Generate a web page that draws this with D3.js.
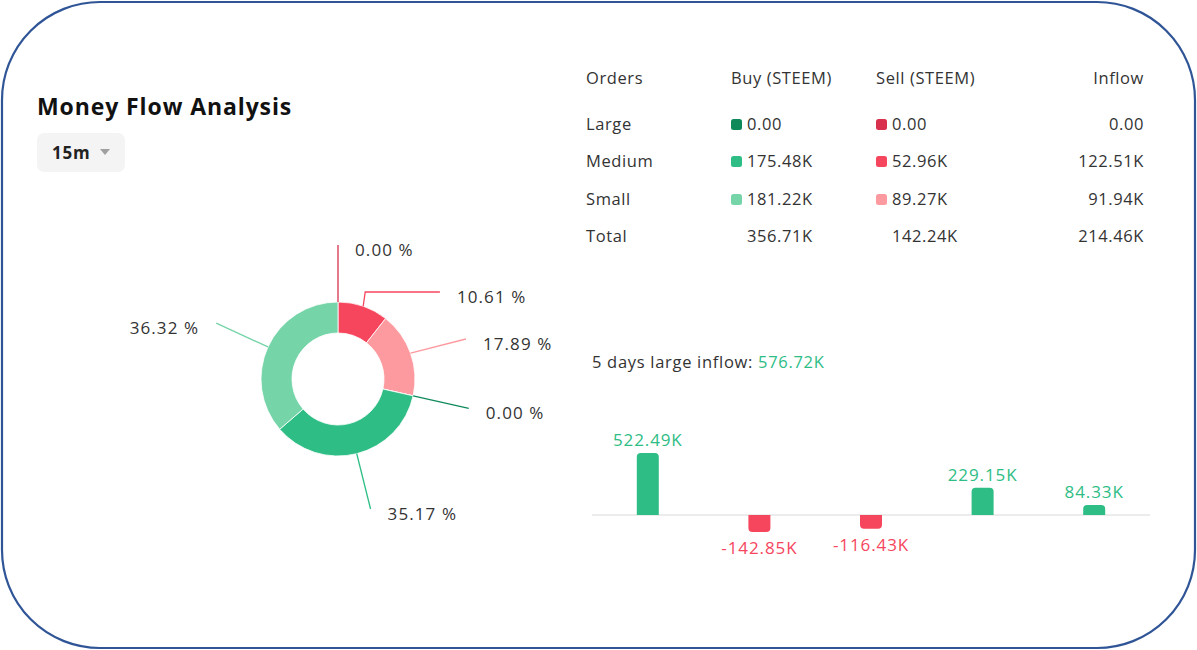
<!DOCTYPE html>
<html>
<head>
<meta charset="utf-8">
<script src="https://cdn.jsdelivr.net/npm/d3@7"></script>
<style>
  body { margin: 0; background: #fff; }
  svg { display: block; font-family: "Open Sans", sans-serif; }
</style>
</head>
<body>
<div id="chart"></div>
<script>
// order table (values in K STEEM)
const orderTypes = ["Large", "Medium", "Small"];
const buyValues = [0, 175.48, 181.22];
const sellValues = [0, 52.96, 89.27];
const inflowValues = [0, 122.51, 91.94];
const totalValues = [356.71, 142.24, 214.46];
const tableHeaders = ["Orders", "Buy (STEEM)", "Sell (STEEM)", "Inflow"];

// 5 days large inflow (K)
const dayKeys = ["d1", "d2", "d3", "d4", "d5"];
const dayInflow = [522.49, -142.85, -116.43, 229.15, 84.33];
const fiveDayTotal = 576.72;

const buyColors = ["#0e8a5a", "#2ebd85", "#76d4a9"];
const sellColors = ["#d9304e", "#f6465d", "#fd9aa0"];
const green = "#2ebd85", red = "#f6465d", textColor = "#333";

const W = 1197, H = 650;
const svg = d3.select("#chart").append("svg")
  .attr("width", W).attr("height", H);

// rounded frame
svg.append("rect")
  .attr("x", 2).attr("y", 2)
  .attr("width", W - 4).attr("height", H - 4)
  .attr("rx", 98).attr("ry", 98)
  .attr("fill", "#fff")
  .attr("stroke", "#2f5597")
  .attr("stroke-width", 2.2);

// title + period selector
svg.append("text")
  .attr("x", 37).attr("y", 115)
  .attr("font-size", 23).attr("font-weight", 700)
  .attr("letter-spacing", 0.9)
  .attr("fill", "#111")
  .text("Money Flow Analysis");

svg.append("rect")
  .attr("x", 37).attr("y", 133).attr("width", 88).attr("height", 39)
  .attr("rx", 7).attr("fill", "#f4f4f4");
svg.append("text")
  .attr("x", 52).attr("y", 159)
  .attr("font-size", 17).attr("font-weight", 700).attr("letter-spacing", 0.8)
  .attr("fill", "#222")
  .text("15m");
svg.append("path")
  .attr("d", "M100,149 L110,149 L105,155 Z")
  .attr("fill", "#a0a0a0");

// ---- donut ----
const slices = [
  ...sellValues.map((v, i) => ({value: v, color: sellColors[i]})),
  ...buyValues.map((v, i) => ({value: v, color: buyColors[i]}))
];
const total = d3.sum(slices, d => d.value);

const cx = 338, cy = 379;
const outerR = 77, innerR = 46;
const pie = d3.pie().sort(null).value(d => d.value);
const arc = d3.arc().innerRadius(innerR).outerRadius(outerR);
const arcs = pie(slices);

const donut = svg.append("g").attr("transform", `translate(${cx},${cy})`);
donut.selectAll("path")
  .data(arcs)
  .enter().append("path")
    .attr("d", arc)
    .attr("fill", d => d.data.color)
    .attr("stroke", "#fff")
    .attr("stroke-width", 0.8);

// label layout: radial end point, then push overlapping labels down
const labelR = outerR + 57;
const gap = 47;
const labels = arcs.map(d => {
  const a = (d.startAngle + d.endAngle) / 2;
  return {
    d: d,
    a: a,
    right: Math.sin(a) > -1e-6,
    sx: outerR * Math.sin(a), sy: -outerR * Math.cos(a),
    x: labelR * Math.sin(a), y: -labelR * Math.cos(a),
    y0: -labelR * Math.cos(a)
  };
});
[true, false].forEach(side => {
  const grp = labels.filter(l => l.right === side).sort((p, q) => p.y - q.y);
  for (let i = 1; i < grp.length; i++) {
    if (grp[i].y < grp[i - 1].y + gap) grp[i].y = grp[i - 1].y + gap;
  }
});
labels.forEach(l => {
  if (Math.abs(l.y - l.y0) > 0.5 && Math.abs(l.y) < labelR) {
    const dx = Math.sqrt(labelR * labelR - l.y * l.y);
    l.x = l.right ? dx : -dx;
  }
  const moved = Math.abs(l.y - l.y0) > 10;
  l.points = moved
    ? [[l.sx, l.sy], [l.sx + (l.right ? 2 : -2), l.y], [l.x, l.y]]
    : [[l.sx, l.sy], [l.x, l.y]];
});

donut.selectAll("polyline")
  .data(labels)
  .enter().append("polyline")
    .attr("points", l => l.points.map(p => p.join(",")).join(" "))
    .attr("fill", "none")
    .attr("stroke", l => l.d.data.color)
    .attr("stroke-width", 1.3);

const pct = d3.format(".2f");
donut.selectAll("text.pct")
  .data(labels)
  .enter().append("text")
    .attr("class", "pct")
    .attr("x", l => l.x + (l.right ? 17 : -17))
    .attr("y", l => l.y + 5)
    .attr("dy", "0.35em")
    .attr("text-anchor", l => l.right ? "start" : "end")
    .attr("font-size", 17)
    .attr("letter-spacing", 1.1)
    .attr("fill", textColor)
    .text(l => pct(l.d.value / total * 100) + " %");

// ---- table ----
const fmtK = v => (v < 0 ? "-" : "") + Math.abs(v).toFixed(2) + (v === 0 ? "" : "K");
const colX = [586, 731, 876];
const inflowRight = 1144;
const rowY = [124, 161, 199];
const totalY = 236;
const table = svg.append("g")
  .attr("font-size", 16.5)
  .attr("letter-spacing", 0.6)
  .attr("fill", textColor);

table.selectAll("text.head")
  .data(tableHeaders)
  .enter().append("text")
    .attr("class", "head")
    .attr("x", (d, i) => i < 3 ? colX[i] : inflowRight)
    .attr("y", 78).attr("dy", "0.35em")
    .attr("text-anchor", (d, i) => i < 3 ? "start" : "end")
    .text(d => d);

const rows = table.selectAll("g.row")
  .data(orderTypes)
  .enter().append("g")
    .attr("class", "row")
    .attr("transform", (d, i) => `translate(0,${rowY[i]})`);

rows.append("text").attr("x", colX[0]).attr("dy", "0.35em").text(d => d);
rows.append("rect")
  .attr("x", colX[1]).attr("y", -5).attr("width", 11).attr("height", 11).attr("rx", 2.5)
  .attr("fill", (d, i) => buyColors[i]);
rows.append("text").attr("x", colX[1] + 16).attr("dy", "0.35em").text((d, i) => fmtK(buyValues[i]));
rows.append("rect")
  .attr("x", colX[2]).attr("y", -5).attr("width", 11).attr("height", 11).attr("rx", 2.5)
  .attr("fill", (d, i) => sellColors[i]);
rows.append("text").attr("x", colX[2] + 16).attr("dy", "0.35em").text((d, i) => fmtK(sellValues[i]));
rows.append("text").attr("x", inflowRight).attr("text-anchor", "end").attr("dy", "0.35em")
  .text((d, i) => fmtK(inflowValues[i]));

const totalRow = table.append("g").attr("transform", `translate(0,${totalY})`);
totalRow.append("text").attr("x", colX[0]).attr("dy", "0.35em").text("Total");
totalRow.append("text").attr("x", colX[1] + 16).attr("dy", "0.35em").text(fmtK(totalValues[0]));
totalRow.append("text").attr("x", colX[2] + 16).attr("dy", "0.35em").text(fmtK(totalValues[1]));
totalRow.append("text").attr("x", inflowRight).attr("text-anchor", "end").attr("dy", "0.35em").text(fmtK(totalValues[2]));

// ---- 5 days bar chart ----
const head = svg.append("text")
  .attr("x", 592).attr("y", 362).attr("dy", "0.35em")
  .attr("font-size", 16.5).attr("letter-spacing", 0.7).attr("fill", textColor);
head.append("tspan").text("5 days large inflow: ");
head.append("tspan").attr("fill", green).text(fmtK(fiveDayTotal));

const x = d3.scaleBand().domain(dayKeys).range([592, 1150]);
const y = d3.scaleLinear().domain(d3.extent(dayInflow)).range([532, 453]);
const y0 = y(0);
const bw = 22, br = 4;

svg.append("line")
  .attr("x1", 592).attr("x2", 1150)
  .attr("y1", y0).attr("y2", y0)
  .attr("stroke", "#ececec").attr("stroke-width", 2);

// bar with rounded outer end
function barPath(k, v) {
  const x0 = x(k) + x.bandwidth() / 2 - bw / 2, x1 = x0 + bw;
  const yv = y(v);
  const r = Math.min(br, Math.abs(yv - y0));
  if (v >= 0) {
    return `M${x0},${y0} V${yv + r} Q${x0},${yv} ${x0 + r},${yv} H${x1 - r} Q${x1},${yv} ${x1},${yv + r} V${y0} Z`;
  }
  return `M${x0},${y0} V${yv - r} Q${x0},${yv} ${x0 + r},${yv} H${x1 - r} Q${x1},${yv} ${x1},${yv - r} V${y0} Z`;
}

const bars = svg.append("g");
bars.selectAll("path")
  .data(dayInflow)
  .enter().append("path")
    .attr("d", (v, i) => barPath(dayKeys[i], v))
    .attr("fill", v => v >= 0 ? green : red);

bars.selectAll("text")
  .data(dayInflow)
  .enter().append("text")
    .attr("x", (v, i) => x(dayKeys[i]) + x.bandwidth() / 2)
    .attr("y", v => v >= 0 ? y(v) - 13 : y(v) + 16)
    .attr("dy", "0.35em")
    .attr("text-anchor", "middle")
    .attr("font-size", 17)
    .attr("letter-spacing", 0.9)
    .attr("fill", v => v >= 0 ? green : red)
    .text(v => fmtK(v));
</script>
</body>
</html>
